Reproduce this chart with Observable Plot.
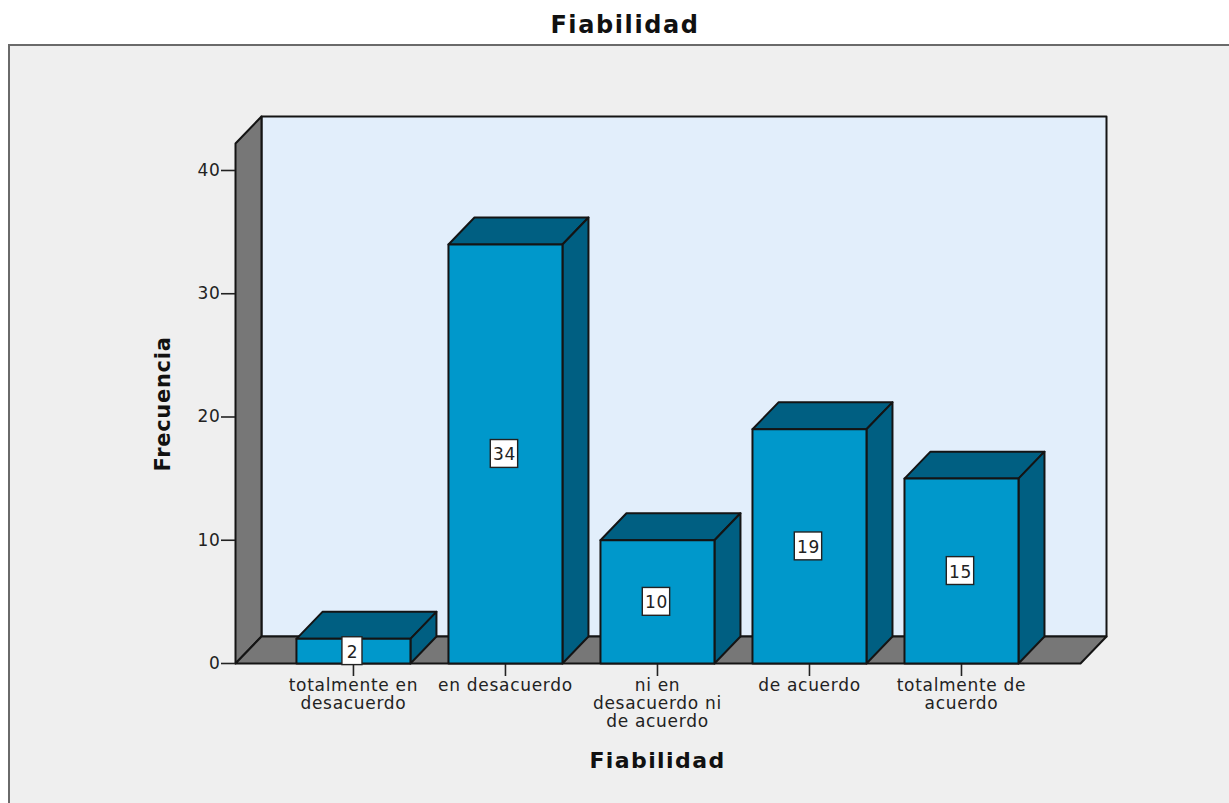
<!DOCTYPE html>
<html lang="es">
<head>
<meta charset="utf-8">
<script src="https://cdn.jsdelivr.net/npm/d3@7"></script>
<script src="https://cdn.jsdelivr.net/npm/@observablehq/plot@0.6"></script>
<style>
  html, body { margin: 0; padding: 0; background: #fff; overflow: hidden; }
  body { width: 1229px; height: 803px; position: relative; font-family: "DejaVu Sans", sans-serif; }
  #title {
    position: absolute; left: 0; top: 11px; width: 1250px; text-align: center;
    font: bold 24px "DejaVu Sans", sans-serif; color: #111; letter-spacing: 1.6px;
  }
  #panel {
    position: absolute; left: 8px; top: 44px; width: 1221px; height: 759px;
    border-left: 2px solid #6a6a6a; border-top: 2px solid #6a6a6a; background: #efefef;
  }
  #panel svg { display: block; background: transparent; }
</style>
</head>
<body>
<div id="title">Fiabilidad</div>
<div id="panel"></div>
<script>
// Survey answers and how many respondents gave each one
const categories = [
  "totalmente en\ndesacuerdo",
  "en desacuerdo",
  "ni en\ndesacuerdo ni\nde acuerdo",
  "de acuerdo",
  "totalmente de\nacuerdo"
];
const counts = [2, 34, 10, 19, 15];
const yTicks = [0, 10, 20, 30, 40];

// Extent of the box, in data units, and the oblique offset of its depth
const xMin = -0.776, xFrontMax = 4.783;
const depthX = 0.171, depthY = 2.19;
const yTop = 44.38;
const halfBar = 0.375;

const polygon = (id, pts) => pts.map(([x, y]) => ({id, x, y}));

const leftWall = polygon("left", [[xMin, 0], [xMin + depthX, depthY], [xMin + depthX, yTop], [xMin, yTop - depthY]]);
const floor = polygon("floor", [[xMin, 0], [xMin + depthX, depthY], [xFrontMax + depthX, depthY], [xFrontMax, 0]]);
const backWall = polygon("back", [[xMin + depthX, depthY], [xMin + depthX, yTop], [xFrontMax + depthX, yTop], [xFrontMax + depthX, depthY]]);

const barFaces = (fn) => counts.flatMap((v, i) => polygon(i, fn(i - halfBar, i + halfBar, v)));
const fronts = barFaces((a, b, v) => [[a, 0], [a, v], [b, v], [b, 0]]);
const tops = barFaces((a, b, v) => [[a, v], [a + depthX, v + depthY], [b + depthX, v + depthY], [b, v]]);
const sides = barFaces((a, b, v) => [[b, 0], [b + depthX, depthY], [b + depthX, v + depthY], [b, v]]);

const face = (data, fill) => Plot.line(data, {
  x: "x", y: "y", z: "id", fill, stroke: "#141414", strokeWidth: 2,
  curve: "linear-closed", strokeLinejoin: "round"
});

// Text marks with their own tracking, on top of the chart-wide value
const tracked = (spacing) => (index, scales, values, dims, context, next) => {
  const g = next(index, scales, values, dims, context);
  g.style.letterSpacing = spacing;
  return g;
};

// Half extents of the count badges: one-digit badges are narrower
const badgeHalfWidth = (v) => (v < 10 ? 0.066 : 0.09);
const badgeHalfHeight = 1.13;

const ink = "#222";
const chart = Plot.plot({
  width: 1221,
  height: 757,
  marginLeft: 225,
  marginRight: 125,
  marginTop: 70,
  marginBottom: 140,
  style: {
    fontFamily: '"DejaVu Sans", sans-serif', fontSize: "17px", letterSpacing: "0.7px",
    color: ink, background: "transparent", overflow: "visible"
  },
  x: {domain: [xMin, xFrontMax + depthX], axis: null},
  y: {domain: [0, yTop], axis: null},
  marks: [
    face(backWall, "#e2eefb"),
    face(leftWall, "#777777"),
    face(floor, "#777777"),
    Plot.axisY({
      ticks: yTicks, tickSize: 14, tickPadding: 1, tickFormat: d3.format("d"),
      label: null, fontSize: 17, stroke: "#222", strokeWidth: 1.6, fill: ink
    }),
    Plot.axisX({
      ticks: categories.map((_, i) => i), tickSize: 13, tickPadding: 2,
      tickFormat: (i) => categories[i], label: null, anchor: "bottom",
      lineHeight: 1.06, fontSize: 17, stroke: "#222", strokeWidth: 1.6, fill: ink,
      lineWidth: 20
    }),
    face(tops, "#005f82"),
    face(sides, "#005f82"),
    face(fronts, "#0098cb"),
    // Count badge sitting at mid height of each bar
    Plot.rect(counts, {
      x1: (v, i) => i - badgeHalfWidth(v), x2: (v, i) => i + badgeHalfWidth(v),
      y1: (v) => v / 2 - badgeHalfHeight, y2: (v) => v / 2 + badgeHalfHeight,
      fill: "#fff", stroke: "#222", strokeWidth: 1.4, dx: -1
    }),
    Plot.text(counts, {
      x: (_, i) => i, y: (v) => v / 2, text: (v) => String(v), dx: -1, dy: 1,
      fontSize: 17, fill: ink
    }),
    Plot.text(["Frecuencia"], {
      frameAnchor: "left", textAnchor: "middle", rotate: -90, dx: -72, dy: 14,
      fontWeight: "bold", fontSize: 21, fill: "#111"
    }),
    Plot.text(["Fiabilidad"], {
      x: () => 2, y: () => 0, dy: 97,
      fontWeight: "bold", fontSize: 22, fill: "#111",
      render: tracked("1.4px")
    })
  ]
});
document.getElementById("panel").append(chart);
</script>
</body>
</html>
